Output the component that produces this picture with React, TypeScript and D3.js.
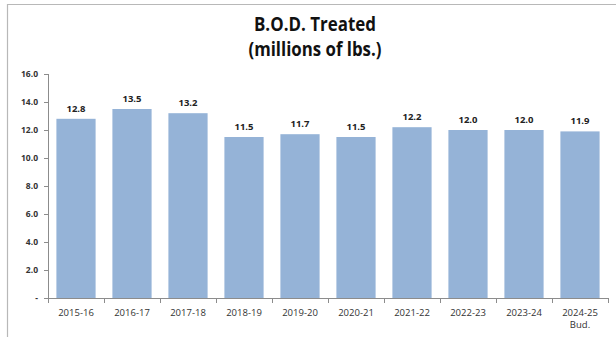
import React from "react";
import * as d3 from "d3";

const categories = ["2015-16", "2016-17", "2017-18", "2018-19", "2019-20", "2020-21", "2021-22", "2022-23", "2023-24", "2024-25"];
const subLabels = ["", "", "", "", "", "", "", "", "", "Bud."];
const values = [12.8, 13.5, 13.2, 11.5, 11.7, 11.5, 12.2, 12.0, 12.0, 11.9];
const yTicks = [0, 2, 4, 6, 8, 10, 12, 14, 16];
const titleLines = ["B.O.D. Treated", "(millions of lbs.)"];

const W = 616;
const H = 337;
const margin = { left: 48, right: 8, top: 74, bottom: 39 };
const font = "'Open Sans', 'Liberation Sans', sans-serif";

export default function App() {
  const x = d3
    .scaleBand<string>()
    .domain(categories)
    .range([margin.left, W - margin.right])
    .paddingInner(0.3)
    .paddingOuter(0.15);
  const y = d3.scaleLinear().domain([0, 16]).range([H - margin.bottom, margin.top]);
  const step = x.step();
  const x0 = margin.left;
  const x1 = W - margin.right;
  const yBase = y(0);

  return (
    <svg
      width={W}
      height={H}
      style={{ position: "absolute", left: 0, top: 0, background: "#fff" }}
      fontFamily={font}
    >
      {/* outer frame */}
      <path d={`M7.5,${H} V4.5 H${W}`} fill="none" stroke="#b8b8b8" strokeWidth={1.2} />

      {titleLines.map((t, i) => (
        <text
          key={t}
          x={315}
          y={31 + i * 25}
          textAnchor="middle"
          fontSize={19}
          fontWeight={700}
          fill="#111"
          textLength={i === 0 ? 122 : 133}
          lengthAdjust="spacingAndGlyphs"
        >
          {t}
        </text>
      ))}

      {/* y axis */}
      <line x1={x0 + 0.5} x2={x0 + 0.5} y1={y(16)} y2={yBase} stroke="#8c8c8c" />
      {yTicks.map((t) => (
        <g key={t}>
          <line x1={x0 - 4} x2={x0} y1={y(t) + 0.5} y2={y(t) + 0.5} stroke="#8c8c8c" />
          <text
            x={38}
            y={y(t) + 3}
            textAnchor="end"
            fontSize={8.5}
            fontWeight={700}
            fill="#333"
          >
            {t === 0 ? "-" : t.toFixed(1)}
          </text>
        </g>
      ))}

      {/* bars */}
      {categories.map((c, i) => (
        <rect
          key={c}
          x={x(c)}
          y={y(values[i])}
          width={x.bandwidth()}
          height={yBase - y(values[i])}
          fill="#95b3d7"
        />
      ))}

      {/* value labels */}
      {categories.map((c, i) => (
        <text
          key={c}
          x={(x(c) as number) + x.bandwidth() / 2}
          y={y(values[i]) - 7}
          textAnchor="middle"
          fontSize={9.5}
          fontWeight={700}
          fill="#222"
        >
          {values[i].toFixed(1)}
        </text>
      ))}

      {/* x axis */}
      <line x1={x0} x2={x1} y1={yBase + 0.5} y2={yBase + 0.5} stroke="#8c8c8c" />
      {d3.range(categories.length + 1).map((k) => (
        <line
          key={k}
          x1={x0 + k * step + 0.5}
          x2={x0 + k * step + 0.5}
          y1={yBase}
          y2={yBase + 5}
          stroke="#8c8c8c"
        />
      ))}
      {categories.map((c, i) => (
        <g key={c}>
          <text
            x={(x(c) as number) + x.bandwidth() / 2}
            y={yBase + 18}
            textAnchor="middle"
            fontSize={9.5}
            fill="#333"
          >
            {c}
          </text>
          {subLabels[i] && (
            <text
              x={(x(c) as number) + x.bandwidth() / 2}
              y={yBase + 30}
              textAnchor="middle"
              fontSize={9.5}
              fill="#333"
            >
              {subLabels[i]}
            </text>
          )}
        </g>
      ))}
    </svg>
  );
}
